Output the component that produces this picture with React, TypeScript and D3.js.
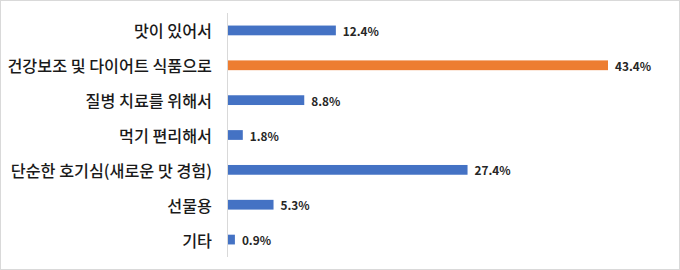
import React from "react";
import * as d3 from "d3";

const categories = [
  "맛이 있어서",
  "건강보조 및 다이어트 식품으로",
  "질병 치료를 위해서",
  "먹기 편리해서",
  "단순한 호기심(새로운 맛 경험)",
  "선물용",
  "기타",
];
const values = [12.4, 43.4, 8.8, 1.8, 27.4, 5.3, 0.9];
const highlight = [false, true, false, false, false, false, false];

const W = 680;
const H = 270;
const x0 = 227;
const top = 13;
const bottom = 257;

export default function App() {
  const x = d3.scaleLinear().domain([0, 43.4]).range([x0, 608]);
  const y = d3
    .scaleBand<string>()
    .domain(categories)
    .range([top, bottom])
    .paddingInner(0.72)
    .paddingOuter(0.36);
  const font = "'Malgun Gothic', 'Noto Sans CJK KR', sans-serif";
  return (
    <svg
      width={W}
      height={H}
      style={{ position: "absolute", left: 0, top: 0, background: "#fff" }}
    >
      <rect x={0.5} y={0.5} width={W - 1} height={H - 1} fill="#fff" stroke="#d9d9d9" />
      <line x1={x0 + 0.5} x2={x0 + 0.5} y1={top} y2={bottom} stroke="#d9d9d9" strokeWidth={1} />
      {categories.map((c, i) => {
        const yc = (y(c) as number) + y.bandwidth() / 2;
        return (
          <g key={c}>
            <rect
              x={x(0) + 1}
              y={y(c) as number}
              width={x(values[i]) - x(0) - 1}
              height={y.bandwidth()}
              fill={highlight[i] ? "#ED7D31" : "#4472C4"}
            />
            <text
              x={212}
              y={yc}
              textAnchor="end"
              dominantBaseline="central"
              fontFamily={font}
              fontSize={16.2}
              fontWeight={500}
              fill="#1a1a1a"
            >
              {c}
            </text>
            <text
              x={x(values[i]) + 7}
              y={yc}
              dominantBaseline="central"
              fontFamily={font}
              fontSize={11.8}
              fontWeight="bold"
              fill="#262626"
            >
              {values[i].toFixed(1) + "%"}
            </text>
          </g>
        );
      })}
    </svg>
  );
}
